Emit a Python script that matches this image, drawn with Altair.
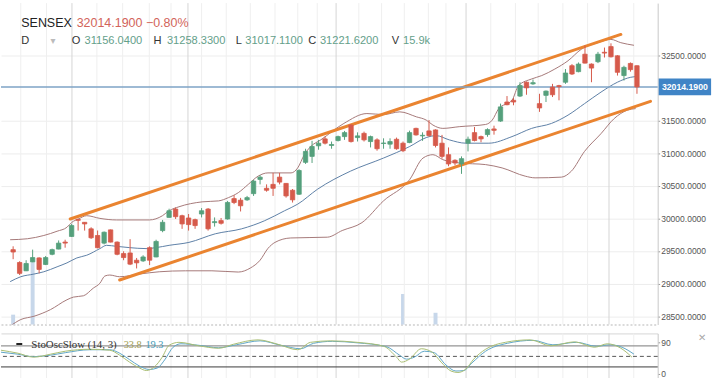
import altair as alt
import pandas as pd

# ---------------- data ----------------
opens = [29521, 29324, 29197, 29333, 29394, 29294, 29450, 29530, 29637, 29723,
         29985, 29940, 29840, 29738, 29621, 29824, 29637, 29461, 29470, 29359,
         29349, 29551, 29409, 29813, 30015, 30143, 30041, 30006, 29981, 30067,
         30143, 29935, 29966, 29991, 30303, 30279, 30284, 30379, 30597, 30461,
         30521, 30632, 30536, 30431, 30370, 30859, 30950, 31112, 31218, 31117,
         31193, 31253, 31430, 31238, 31303, 31177, 31203, 31147, 31137, 31212,
         31152, 31162, 31379, 31264, 31340, 31355, 31152, 30976, 30890, 30834,
         31152, 31314, 31253, 31284, 31370, 31491, 31783, 31809, 31874, 32086,
         32061, 31758, 31885, 32011, 32034, 32086, 32339, 32248, 32515, 32364,
         32400, 32545, 32632, 32491, 32188, 32374, 32339]
highs = [29572, 29344, 29359, 29521, 29403, 29424, 29536, 29662, 29673, 29915,
         29995, 29943, 29864, 29814, 29799, 29829, 29647, 29496, 29682, 29394,
         29435, 29572, 29673, 29976, 30148, 30167, 30056, 30067, 29996, 30158,
         30158, 30015, 30006, 30268, 30355, 30314, 30344, 30591, 30662, 30521,
         30697, 30697, 30541, 30450, 30753, 31067, 31188, 31203, 31253, 31177,
         31268, 31340, 31443, 31318, 31329, 31268, 31227, 31227, 31227, 31238,
         31177, 31344, 31389, 31318, 31506, 31364, 31279, 31087, 30905, 30950,
         31253, 31400, 31268, 31380, 31420, 31758, 31874, 31844, 32086, 32097,
         32127, 31909, 31960, 32061, 32046, 32288, 32364, 32389, 32652, 32374,
         32551, 32617, 32682, 32500, 32339, 32389, 32344]
lows = [29375, 29132, 29193, 29329, 29158, 29284, 29435, 29526, 29551, 29715,
        29813, 29813, 29685, 29541, 29602, 29632, 29435, 29359, 29284, 29233,
        29333, 29284, 29405, 29788, 30011, 29991, 29840, 29813, 29840, 30015,
        29813, 29874, 29905, 29981, 30218, 30106, 30268, 30344, 30521, 30409,
        30344, 30521, 30318, 30243, 30359, 30834, 30849, 31052, 31132, 31067,
        31178, 31203, 31162, 31178, 31178, 31087, 31037, 31067, 31067, 31052,
        31015, 31152, 31268, 31188, 31253, 31087, 30915, 30799, 30814, 30682,
        31026, 31180, 31167, 31250, 31283, 31480, 31733, 31733, 31859, 31894,
        32046, 31632, 31783, 31859, 31809, 32061, 32197, 32238, 32374, 32086,
        32379, 32465, 32465, 32188, 32112, 32248, 31909]
closes = [29485, 29158, 29309, 29400, 29218, 29400, 29521, 29621, 29621, 29890,
          29970, 29915, 29703, 29551, 29788, 29637, 29450, 29400, 29299, 29319,
          29409, 29359, 29647, 29940, 30117, 30026, 29915, 29905, 29890, 30117,
          29840, 29950, 29925, 30243, 30243, 30193, 30318, 30571, 30632, 30431,
          30461, 30556, 30344, 30284, 30734, 31026, 31102, 31152, 31152, 31132,
          31253, 31314, 31177, 31264, 31203, 31253, 31067, 31155, 31177, 31067,
          31037, 31314, 31279, 31273, 31268, 31117, 30950, 30834, 30849, 30915,
          31212, 31193, 31218, 31360, 31349, 31708, 31742, 31783, 32036, 32000,
          32079, 31692, 31950, 31894, 32019, 32227, 32212, 32364, 32379, 32303,
          32515, 32533, 32476, 32238, 32314, 32279, 32014.19]

vol_index = [0, 3, 60, 65]
vol_value = [4.2, 26.5, 13.0, 5.0]

upper_i = [-0.46, 2.19, 4.72, 6.76, 8.28, 9.04, 10.05, 11.32, 13.35, 15.89, 20.96, 22.98, 24.0,
           25.52, 29.07, 31.61, 33.13, 34.65, 36.18, 37.70, 39.22, 42.77, 43.79, 44.81, 45.81,
           47.34, 50.90, 54.44, 56.99, 59.51, 62.05, 63.57, 64.60, 66.12, 68.65, 72.71, 73.73,
           74.73, 76.77, 77.78, 79.79, 81.35, 83.36, 85.39, 87.43, 89.95, 91.99, 93.51, 95.54]
upper_p = [29673, 29688, 29738, 29803, 29864, 29940, 29991, 30041, 30000, 29976, 29976, 30041, 30117,
           30178, 30253, 30268, 30318, 30394, 30521, 30647, 30697, 30697, 30773, 30976, 31102,
           31203, 31455, 31606, 31591, 31632, 31556, 31506, 31430, 31379, 31405, 31439, 31506,
           31682, 31809, 32036, 32136, 32188, 32288, 32415, 32591, 32692, 32742, 32692, 32652]
mid_i = [-0.46, 1.17, 3.20, 4.72, 6.76, 8.28, 9.80, 11.32, 13.35, 14.37, 15.89, 17.91, 20.46,
         21.98, 24.0, 27.05, 31.11, 35.16, 38.72, 41.77, 43.79, 46.83, 51.90, 56.99, 61.04,
         63.57, 65.09, 67.12, 69.67, 73.21, 76.77, 79.79, 82.85, 85.39, 87.93, 90.47, 92.99,
         95.04, 95.80]
mid_p = [29031, 29106, 29147, 29182, 29258, 29318, 29394, 29435, 29537, 29587, 29572, 29552, 29537,
         29552, 29587, 29632, 29764, 29840, 29965, 30117, 30218, 30446, 30723, 30924, 31102,
         31238, 31268, 31203, 31152, 31152, 31253, 31379, 31455, 31582, 31758, 31935, 32086,
         32162, 32173]
lower_i = [-0.46, 1.17, 3.20, 5.74, 8.28, 9.28, 10.81, 12.33, 13.35, 14.11, 14.87, 16.39, 19.44,
           22.48, 26.54, 30.59, 34.65, 36.48, 38.0, 39.22, 40.29, 42.72, 48.36, 50.64, 53.68,
           56.99, 61.04, 63.07, 64.60, 66.12, 68.65, 72.71, 75.25, 78.80, 80.32, 84.38, 85.90,
           87.93, 90.47, 92.50, 94.52, 95.80]
lower_p = [28349, 28450, 28500, 28602, 28753, 28794, 28814, 28931, 29006, 29117, 29132, 29106, 29147,
           29182, 29197, 29197, 29178, 29238, 29359, 29541, 29632, 29700, 29712, 29814, 29935,
           30268, 30597, 30924, 30976, 30900, 30849, 30824, 30773, 30647, 30621, 30632, 30723,
           31026, 31299, 31530, 31658, 31682]

chan_upper_i = [8.78, 93.52]
chan_upper_p = [29991, 32818]
chan_lower_i = [16.39, 98.08]
chan_lower_p = [29056, 31794]

last_price = 32014.19

k_i = [-1.87, 0.72, 3.15, 5.74, 8.02, 11.83, 14.87, 16.39, 17.91, 19.44, 20.50, 21.72, 22.94,
       24.0, 25.52, 28.57, 31.61, 33.89, 37.70, 40.75, 43.79, 45.77, 48.81, 52.92, 57.03,
       59.01, 59.77, 60.99, 62.82, 64.49, 65.86, 67.38, 68.45, 69.67, 70.88, 72.71, 75.75,
       79.56, 82.75, 86.41, 89.45, 91.43, 93.41, 95.23]
k_v = [67.5, 59.1, 47.8, 56.2, 64.7, 70.3, 67.5, 53.4, 33.7, 16.9, 9.8, 19.7, 47.8,
       81.5, 90.0, 80.1, 73.1, 84.4, 97.0, 84.4, 68.9, 90.0, 94.2, 90.0, 78.7,
       47.8, 33.7, 42.2, 71.7, 61.9, 33.7, 8.4, 4.2, 14.1, 42.2, 70.3, 90.0,
       97.0, 80.1, 91.4, 75.9, 85.8, 74.5, 47.8]
d_i = [-1.87, 0.72, 3.15, 5.74, 8.02, 11.83, 14.87, 16.39, 17.91, 19.44, 20.96, 22.18, 23.40,
       24.61, 25.83, 28.57, 31.61, 34.35, 38.0, 41.20, 44.25, 46.23, 49.12, 52.92, 57.49,
       59.47, 60.53, 61.75, 63.27, 64.80, 66.62, 68.14, 69.36, 70.58, 72.71, 76.06, 80.02,
       83.06, 86.71, 89.75, 91.88, 93.71, 95.54]
d_v = [61.9, 56.2, 49.2, 53.4, 60.5, 68.9, 68.9, 59.1, 40.8, 22.5, 12.7, 16.9, 42.2,
       75.9, 85.8, 81.5, 74.5, 83.0, 94.2, 81.5, 71.7, 87.2, 92.8, 88.6, 77.3,
       53.4, 42.2, 47.8, 64.7, 60.5, 25.3, 8.4, 9.8, 30.9, 64.7, 87.2, 95.6,
       83.0, 90.0, 78.7, 83.0, 75.9, 56.2]

# 32000 is hidden behind the last-price tag in the reference
price_ticks = [28500, 29000, 29500, 30000, 30500, 31000, 31500, 32500]
osc_ticks = [0, 90]
osc_levels = [80, 50, 20]
grid_major = [9.05, 26.9, 49.7, 69.7, 91.7]
grid_minor = [1.17, 5.13, 12.89, 16.85, 20.96, 24.3, 29.0, 32.8, 36.5, 40.3, 43.8, 46.8,
              53.2, 56.7, 60.2, 63.9, 66.6, 73.5, 77.3, 80.8, 84.6, 88.4, 95.5]

# ---------------- styling ----------------
UP = "#55a07c"
DOWN = "#d65a4b"
BAND = "#a57878"
MID = "#5d80a6"
ORANGE = "#ea8430"
K_COL = "#a9bd72"
D_COL = "#5fa6c6"
FONT = "Liberation Sans"

X_SCALE = alt.Scale(domain=[-1.87, 99.19], nice=False, zero=False, padding=0)
P_SCALE = alt.Scale(domain=[28374, 33298.5], nice=False, zero=False, padding=0)
O_SCALE = alt.Scale(domain=[-14.06, 115.3], nice=False, zero=False, padding=0)

X_AXIS = alt.Axis(orient="bottom", labels=False, ticks=False, grid=False, title=None,
                  domainColor="#b5b5b5", domainDash=[2, 2])
P_AXIS = alt.Axis(orient="right", values=price_ticks, format=".4f", title=None,
                  labelFont=FONT, labelFontSize=8.6, labelColor="#555555", labelPadding=1,
                  tickSize=2, tickColor="#999999", domainColor="#c8c8c8",
                  grid=True, gridColor="#ededed")


def X(field="i"):
    return alt.X(f"{field}:Q", scale=X_SCALE, axis=X_AXIS)


def PY(field):
    return alt.Y(f"{field}:Q", scale=P_SCALE, axis=P_AXIS)


def label(txt, x, y, color, size, font=FONT, weight="normal", align="left", baseline="alphabetic"):
    return alt.Chart(pd.DataFrame({"t": [txt]})).mark_text(
        align=align, baseline=baseline, font=font, fontSize=size, fontWeight=weight, color=color
    ).encode(x=alt.value(x), y=alt.value(y), text="t:N")


# ---------------- tables ----------------
n = len(opens)
candles = pd.DataFrame({"i": list(range(n)), "open": opens, "high": highs,
                        "low": lows, "close": closes})
is_up = [c >= o for o, c in zip(opens, closes)]
up_c = candles[is_up]
down_c = candles[[not u for u in is_up]]

upper_df = pd.DataFrame({"i": upper_i, "p": upper_p})
mid_df = pd.DataFrame({"i": mid_i, "p": mid_p})
lower_df = pd.DataFrame({"i": lower_i, "p": lower_p})
channel = pd.concat([
    pd.DataFrame({"i": chan_upper_i, "p": chan_upper_p, "ch": "up"}),
    pd.DataFrame({"i": chan_lower_i, "p": chan_lower_p, "ch": "low"}),
])
vol = pd.DataFrame({"i": vol_index, "v": vol_value})
gmaj = pd.DataFrame({"i": grid_major})
gmin = pd.DataFrame({"i": grid_minor})
last = pd.DataFrame({"p": [last_price]})
k_df = pd.DataFrame({"i": k_i, "v": k_v})
d_df = pd.DataFrame({"i": d_i, "v": d_v})

# ---------------- price pane ----------------
volume = alt.Chart(vol).mark_bar(size=4, color="#c7d7ea").encode(
    x=X(), y=alt.Y("v:Q", scale=alt.Scale(domain=[0, 137], padding=0), axis=None))

minor_rules = alt.Chart(gmin).mark_rule(color="#efefef", strokeWidth=1).encode(x=X())
major_rules = alt.Chart(gmaj).mark_rule(color="#d4d4d4", strokeWidth=1).encode(x=X())


def band(df, color):
    return alt.Chart(df).mark_line(strokeWidth=1, interpolate="monotone", clip=True,
                                   color=color).encode(x=X(), y=PY("p"))


channel_lines = alt.Chart(channel).mark_line(strokeWidth=3, strokeCap="round", color=ORANGE).encode(
    x=X(), y=PY("p"), detail="ch:N")

last_line = alt.Chart(last).mark_rule(color="#7ea3c6", strokeWidth=1.5).encode(y=PY("p"))


def wick(df, color):
    return alt.Chart(df).mark_rule(strokeWidth=1, color=color).encode(
        x=X(), y=PY("low"), y2="high")


def body(df, color):
    return alt.Chart(df).mark_bar(size=4.4, strokeWidth=0.8, color=color, stroke=color).encode(
        x=X(), y=PY("open"), y2="close")


tag = alt.Chart(last).mark_rule(color="#3f84c6", strokeWidth=17, strokeCap="butt").encode(
    x=alt.value(665), x2=alt.value(718), y=PY("p"))
tag_text = alt.Chart(last).mark_text(color="white", fontWeight="bold", fontSize=8.8, font=FONT,
                                     align="center", baseline="middle").encode(
    x=alt.value(691.5), y=PY("p"), text=alt.value("32014.1900"))

VALC = "#64a08a"
header = [
    label("SENSEX", 20.5, 24.5, "#222222", 12.6),
    label("32014.1900 \u22120.80%", 76.5, 24.5, "#d2645a", 12.6),
    label("D", 20.5, 41.5, "#333333", 11.2),
    label("\u25be", 50, 41.5, "#bbbbbb", 10, font="DejaVu Sans"),
    label("O", 71.5, 41.5, "#333333", 11.2),
    label("31156.0400", 84.5, 41.5, VALC, 11.2),
    label("H", 154.3, 41.5, "#333333", 11.2),
    label("31258.3300", 167.8, 41.5, VALC, 11.2),
    label("L", 237.3, 41.5, "#333333", 11.2),
    label("31017.1100", 247, 41.5, VALC, 11.2),
    label("C", 310.7, 41.5, "#333333", 11.2),
    label("31221.6200", 322.5, 41.5, VALC, 11.2),
    label("V", 395, 41.5, "#333333", 11.2),
    label("15.9k", 406.5, 41.5, VALC, 11.2),
]

price_group = alt.layer(minor_rules, major_rules,
                        band(upper_df, BAND), band(mid_df, MID), band(lower_df, BAND),
                        channel_lines, last_line,
                        wick(up_c, UP), wick(down_c, DOWN), body(up_c, UP), body(down_c, DOWN),
                        tag, tag_text, *header)
price = alt.layer(volume, price_group).resolve_scale(y="independent").properties(
    width=664, height=325)

# ---------------- oscillator pane ----------------
OX_AXIS = alt.Axis(orient="top", labels=False, ticks=False, grid=False, title=None,
                   domainColor="#d6d6d6")
O_AXIS = alt.Axis(orient="right", values=osc_ticks, format="d", title=None,
                  labelFont=FONT, labelFontSize=8.6, labelColor="#555555", labelPadding=1,
                  tickSize=2, tickColor="#999999", domainColor="#c8c8c8", grid=False)


def OX():
    return alt.X("i:Q", scale=X_SCALE, axis=OX_AXIS)


def OY(field="v"):
    return alt.Y(f"{field}:Q", scale=O_SCALE, axis=O_AXIS)


def level(value, color, width, dash=None):
    kw = dict(color=color, strokeWidth=width)
    if dash:
        kw["strokeDash"] = dash
    return alt.Chart(pd.DataFrame({"v": [value]})).mark_rule(**kw).encode(y=OY())


def osc_line(df, color):
    return alt.Chart(df).mark_line(strokeWidth=1, interpolate="monotone", clip=True,
                                   color=color).encode(x=OX(), y=OY())


o_minor = alt.Chart(gmin).mark_rule(color="#efefef").encode(x=OX())
o_major = alt.Chart(gmaj).mark_rule(color="#d4d4d4").encode(x=OX())

osc_dash = alt.Chart(pd.DataFrame({"t": [1]})).mark_rule(color="#222222", strokeWidth=2).encode(
    x=alt.value(15.5), x2=alt.value(21.5), y=alt.value(10.7))
osc_text = [
    label("StoOscSlow (14, 3)", 30.7, 14.5, "#333333", 11, font="Liberation Serif"),
    label("33.8", 124, 14.5, "#a19d52", 10.5, font="Liberation Serif"),
    label("19.3", 146, 14.5, "#3f9ab6", 10.5, font="Liberation Serif"),
    label("\u2715", 709, 5, "#a8a8a8", 10, font="DejaVu Sans", align="center", baseline="middle"),
]

osc = alt.layer(o_minor, o_major,
                level(osc_levels[0], "#959595", 1.3),
                level(osc_levels[1], "#555555", 1, [4, 3]),
                level(osc_levels[2], "#3a3a3a", 1),
                osc_line(d_df, D_COL), osc_line(k_df, K_COL),
                osc_dash, *osc_text).properties(width=664, height=46)

chart = alt.vconcat(price, osc, spacing=7).properties(
    padding=0, background="white").configure_view(stroke=None)

chart.save("out.html", embed_options={"renderer": "svg", "actions": False})
